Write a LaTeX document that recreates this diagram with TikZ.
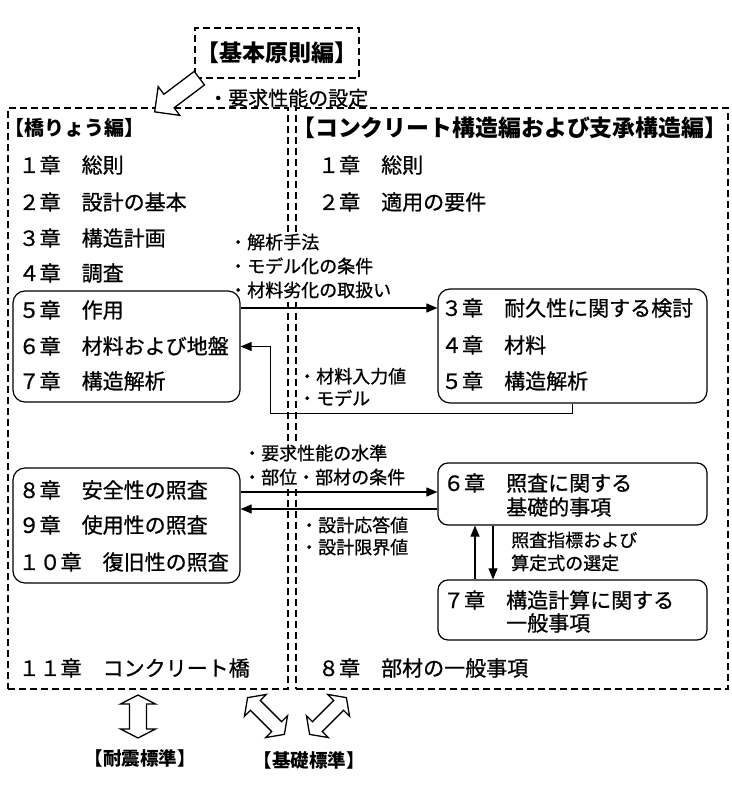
\documentclass[tikz,border=0pt]{standalone}
\usepackage{fontspec}
\setmainfont{Noto Sans CJK JP}[UprightFeatures = {FakeBold = 0.8}]
\usetikzlibrary{arrows.meta}

\begin{document}
\begin{tikzpicture}[x = 1pt, y = -1pt,
	chap/.style = {anchor = west, inner sep = 0pt, font = \fontsize{21}{25}\selectfont},
	note/.style = {anchor = west, inner sep = 0pt, align = left, fill = white, font = \fontsize{18}{24}\selectfont},
	title/.style = {anchor = west, inner sep = 0pt, font = \bfseries\fontsize{20}{24}\selectfont},
	part/.style = {draw = black, line width = 1.2pt, dash pattern = on 7pt off 4pt, inner sep = 0pt},
	group/.style = {draw = black, line width = 1.2pt, rounded corners = 12pt, inner sep = 0pt},
	flow/.style = {line width = 1.1pt, -{Triangle[length = 11pt, width = 9pt]}},
	hollow/.style = {draw = black, fill = white, line width = 1.3pt, line join = miter}]
	\useasboundingbox (0, 0) rectangle (731, 789);

	\node[part, minimum width = 280pt, minimum height = 581pt] (bridge) at (148, 398.5) {};
	\node[part, minimum width = 432pt, minimum height = 581pt] (concrete) at (512, 398.5) {};
	\node[part, minimum width = 164pt, minimum height = 50pt, font = \bfseries\fontsize{23}{26}\selectfont] (basic) at (277, 53) {【基本原則編】};
	\begin{scope}[shift = {(177, 95)}, rotate = 217]
		\draw[hollow] (-28, -8.5) -- (10, -8.5) -- (10, -18) -- (28, 0) -- (10, 18) -- (10, 8.5) -- (-28, 8.5) -- cycle;
	\end{scope}
	\node[note, fill = none, font = \fontsize{20}{24}\selectfont] (needs) at (208, 98) {・要求性能の設定};

	\node[note] (method) at (229, 266) {・解析手法\\・モデル化の条件\\・材料劣化の取扱い};
	\node[note, font = \fontsize{18}{22}\selectfont] (input) at (298, 387) {・材料入力値\\・モデル};
	\node[note] (level) at (243, 465) {・要求性能の水準\\・部位・部材の条件};
	\node[note, font = \fontsize{18}{22}\selectfont] (limit) at (300, 536) {・設計応答値\\・設計限界値};
	\node[note, font = \fontsize{18}{23}\selectfont] (select) at (511, 551.5) {照査指標および\\算定式の選定};

	\node[title] (bridgehead) at (4, 128) {【橋りょう編】};
	\node[chap] (b1) at (18.5, 165) {１章　総則};
	\node[chap] (b2) at (18.5, 202) {２章　設計の基本};
	\node[chap] (b3) at (18.5, 238) {３章　構造計画};
	\node[chap] (b4) at (18.5, 273) {４章　調査};
	\node[group, minimum width = 227pt, minimum height = 111pt] (act) at (126.5, 346.5) {};
	\node[chap] (b5) at (18.5, 310) {５章　作用};
	\node[chap] (b6) at (18.5, 346) {６章　材料および地盤};
	\node[chap] (b7) at (18.5, 381) {７章　構造解析};
	\node[group, minimum width = 227pt, minimum height = 115pt] (check) at (126.5, 525.5) {};
	\node[chap] (b8) at (18.5, 490) {８章　安全性の照査};
	\node[chap] (b9) at (18.5, 525) {９章　使用性の照査};
	\node[chap] (b10) at (18.5, 562) {１０章　復旧性の照査};
	\node[chap] (b11) at (18.5, 668) {１１章　コンクリート橋};

	\node[title, font = \bfseries\fontsize{22.9}{26}\selectfont] (concretehead) at (292, 128) {【コンクリート構造編および支承構造編】};
	\node[chap] (c1) at (318, 165) {１章　総則};
	\node[chap] (c2) at (318, 202) {２章　適用の要件};
	\node[group, minimum width = 269pt, minimum height = 114pt] (dura) at (572.5, 346) {};
	\node[chap] (c3) at (441, 308) {３章　耐久性に関する検討};
	\node[chap] (c4) at (441, 345) {４章　材料};
	\node[chap] (c5) at (441, 381) {５章　構造解析};
	\node[group, rounded corners = 10pt, minimum width = 269pt, minimum height = 62pt] (basis) at (572.5, 494) {};
	\node[chap] (c6) at (443, 483) {６章　照査に関する};
	\node[chap] (c6b) at (506, 507) {基礎的事項};
	\node[group, rounded corners = 10pt, minimum width = 269pt, minimum height = 60pt] (calc) at (572.5, 610) {};
	\node[chap] (c7) at (443, 600) {７章　構造計算に関する};
	\node[chap] (c7b) at (506, 623) {一般事項};
	\node[chap] (c8) at (318, 668) {８章　部材の一般事項};

	\draw[flow] (act.east |- 0, 308) -- (dura.west |- 0, 308);
	\draw[flow] (dura.south) -- ++(0, 10) -| ([xshift = 30pt] act.east) -- (act.east);
	\draw[flow] (check.east |- 0, 492) -- (basis.west |- 0, 492);
	\draw[flow] (basis.west |- 0, 509) -- (check.east |- 0, 509);
	\draw[flow] (calc.north -| 475, 0) -- (basis.south -| 475, 0);
	\draw[flow] (basis.south -| 493, 0) -- (calc.north -| 493, 0);

	\begin{scope}[shift = {(138, 716.5)}, rotate = 90]
		\draw[hollow] (-21.5, 0) -- (-12.5, 17.5) -- (-12.5, 8.5) -- (12.5, 8.5) -- (12.5, 17.5) -- (21.5, 0) -- (12.5, -17.5) -- (12.5, -8.5) -- (-12.5, -8.5) -- (-12.5, -17.5) -- cycle;
	\end{scope}
	\begin{scope}[shift = {(266, 716)}, rotate = -45]
		\draw[hollow] (-26, 0) -- (-15, 15.5) -- (-15, 7) -- (15, 7) -- (15, 15.5) -- (26, 0) -- (15, -15.5) -- (15, -7) -- (-15, -7) -- (-15, -15.5) -- cycle;
	\end{scope}
	\begin{scope}[shift = {(328, 716)}, rotate = 45]
		\draw[hollow] (-26, 0) -- (-15, 15.5) -- (-15, 7) -- (15, 7) -- (15, 15.5) -- (26, 0) -- (15, -15.5) -- (15, -7) -- (-15, -7) -- (-15, -15.5) -- cycle;
	\end{scope}
	\node[title, anchor = center, font = \bfseries\fontsize{18.5}{22}\selectfont] (quake) at (140, 758) {【耐震標準】};
	\node[title, anchor = center, font = \bfseries\fontsize{18.5}{22}\selectfont] (found) at (309, 760) {【基礎標準】};
\end{tikzpicture}
\end{document}
